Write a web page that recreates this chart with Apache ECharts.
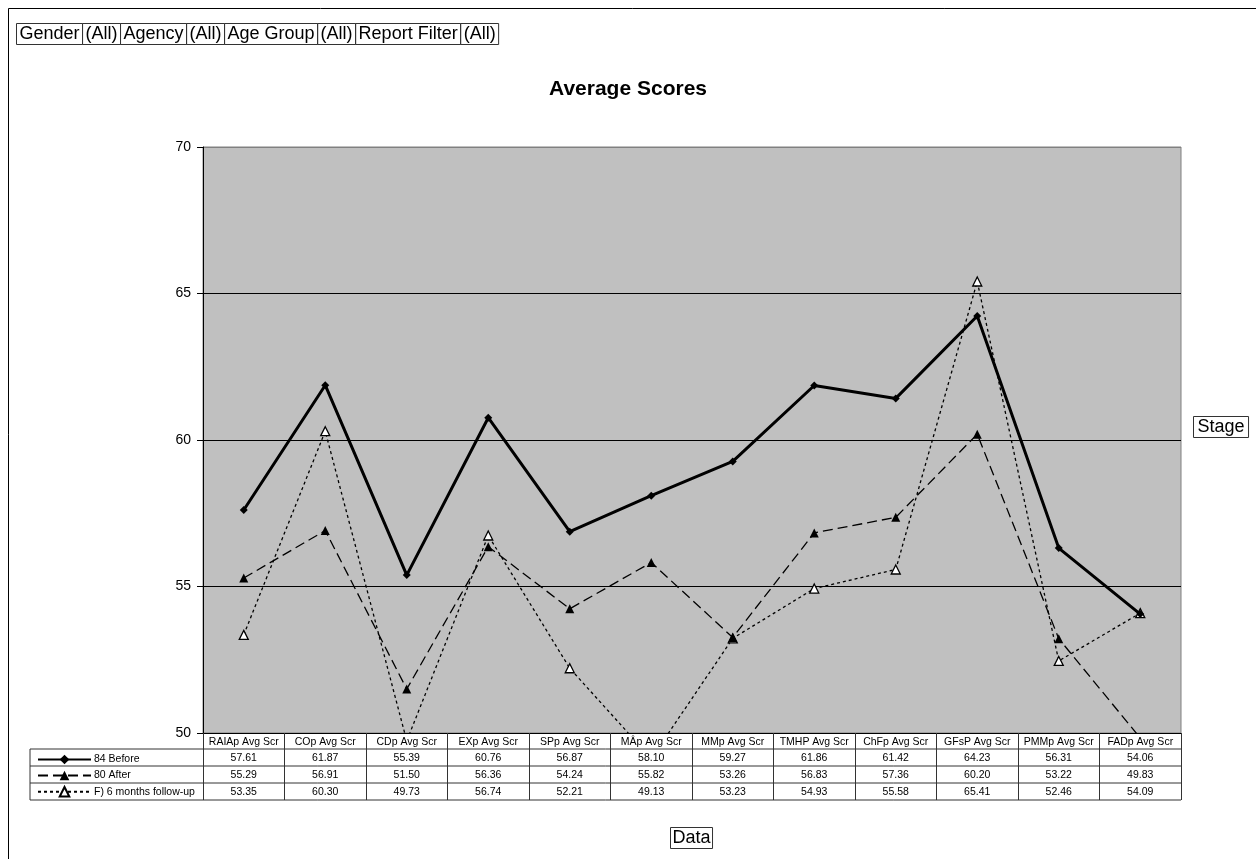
<!DOCTYPE html>
<html><head><meta charset="utf-8">
<script src="https://cdn.jsdelivr.net/npm/echarts@6/dist/echarts.min.js"></script>
<style>html,body{margin:0;padding:0;background:#fff}#c{width:1256px;height:859px}</style>
</head><body><div id="c"></div>
<script>
const categories = ["RAIAp Avg Scr","COp Avg Scr","CDp Avg Scr","EXp Avg Scr","SPp Avg Scr","MÂp Avg Scr","MMp Avg Scr","TMHP Avg Scr","ChFp Avg Scr","GFsP Avg Scr","PMMp Avg Scr","FADp Avg Scr"];
const seriesNames = ["84 Before","80 After","F) 6 months follow-up"];
const before = [57.61,61.87,55.39,60.76,56.87,58.10,59.27,61.86,61.42,64.23,56.31,54.06];
const after = [55.29,56.91,51.50,56.36,54.24,55.82,53.26,56.83,57.36,60.20,53.22,49.83];
const followUp = [53.35,60.30,49.73,56.74,52.21,49.13,53.23,54.93,55.58,65.41,52.46,54.09];
const yTicks = {min:50, max:70, interval:5};
const filters = ["Gender","(All)","Agency","(All)","Age Group","(All)","Report Filter","(All)"];

const FONT = 'Arial, "Liberation Sans", sans-serif';
const GL = 203, GR = 1181, GT = 147, GB = 733;
const ROW = 17, HEAD = 16;
const chart = echarts.init(document.getElementById('c'), null, {renderer:'canvas'});

function rowAxis(idx, data, offset, tickLen) {
  return {
    type:'category', data:data, gridIndex:0, position:'bottom', offset:offset,
    boundaryGap:true,
    axisLine:{show: idx===0, lineStyle:{color:'#000', width:1}},
    axisTick:{show:true, interval:0, length:tickLen, lineStyle:{color:'#333', width:1}},
    axisLabel:{show:true, interval:0, margin:4, fontSize:10.5, fontFamily:FONT, color:'#000'},
    splitLine:{show:false}, z: 3
  };
}
const fmt = a => a.map(v => v.toFixed(2));

const lineEls = [];
[GB+HEAD, GB+HEAD+ROW, GB+HEAD+2*ROW, GB+HEAD+3*ROW].forEach(y => {
  lineEls.push({type:'line', shape:{x1:30, y1:y, x2:GR, y2:y}, style:{stroke:'#333', lineWidth:1}, z:10});
});
lineEls.push({type:'line', shape:{x1:30, y1:GB+HEAD, x2:30, y2:GB+HEAD+3*ROW}, style:{stroke:'#333', lineWidth:1}, z:10});

const boxStyle = {fontSize:18, fontFamily:FONT, color:'#000', borderColor:'#333', borderWidth:1, padding:[2,3,1,3]};
const richBox = {b:boxStyle};

chart.setOption({
  backgroundColor:'#fff',
  animation:false,
  title:{text:'Average Scores', left:'center', top:74, textStyle:{fontSize:21, fontWeight:'bold', fontFamily:FONT, color:'#000'}},
  legend:{
    orient:'vertical', left:32, top:GB+HEAD, itemWidth:53, itemHeight:12, itemGap:5,
    data:seriesNames, selectedMode:false,
    textStyle:{fontSize:10.5, fontFamily:FONT, color:'#000', padding:[0,0,0,-2]}
  },
  grid:{left:GL, right:1256-GR, top:GT, bottom:859-GB, show:true, backgroundColor:'#c0c0c0', borderColor:'#808080', borderWidth:1},
  xAxis:[
    rowAxis(0, categories, 0, HEAD),
    rowAxis(1, fmt(before), HEAD, ROW),
    rowAxis(2, fmt(after), HEAD+ROW, ROW),
    rowAxis(3, fmt(followUp), HEAD+2*ROW, ROW)
  ],
  yAxis:{
    type:'value', min:yTicks.min, max:yTicks.max, interval:yTicks.interval,
    axisLine:{show:true, lineStyle:{color:'#000', width:1}},
    axisTick:{show:true, length:6, lineStyle:{color:'#000'}},
    axisLabel:{fontSize:14, fontFamily:FONT, color:'#000', margin:12},
    splitLine:{show:true, lineStyle:{color:['#000','#000','#000','#000','#808080'], width:1}}
  },
  series:[
    {name:seriesNames[2], type:'line', data:followUp, xAxisIndex:0, z:2,
     symbol:'triangle', symbolSize:9, clip:true,
     lineStyle:{color:'#000', width:1.3, type:[3,3]},
     itemStyle:{color:'#fff', borderColor:'#000', borderWidth:1.3}},
    {name:seriesNames[1], type:'line', data:after, xAxisIndex:0, z:3,
     symbol:'triangle', symbolSize:9, clip:true,
     lineStyle:{color:'#000', width:1.3, type:[10,5]},
     itemStyle:{color:'#000'}},
    {name:seriesNames[0], type:'line', data:before, xAxisIndex:0, z:4,
     symbol:'diamond', symbolSize:8, clip:true,
     lineStyle:{color:'#000', width:3, type:'solid'},
     itemStyle:{color:'#000'}}
  ],
  graphic:[
    {type:'rect', shape:{x:8.5, y:8.5, width:1300, height:900}, style:{fill:'none', stroke:'#000', lineWidth:1}, z:0, silent:true},
    {type:'text', left:16, top:23, z:10, style:{text: filters.map(f => '{b|'+f+'}').join(''), rich:richBox}},
    {type:'text', left:1193, top:416, z:10, style:{text:'{b|Stage}', rich:{b:Object.assign({}, boxStyle, {padding:[2,4,1,4]})}}},
    {type:'text', left:670, top:827, z:10, style:{text:'{b|Data}', rich:{b:Object.assign({}, boxStyle, {padding:[2,2,1,2]})}}}
  ].concat(lineEls)
});
</script></body></html>
